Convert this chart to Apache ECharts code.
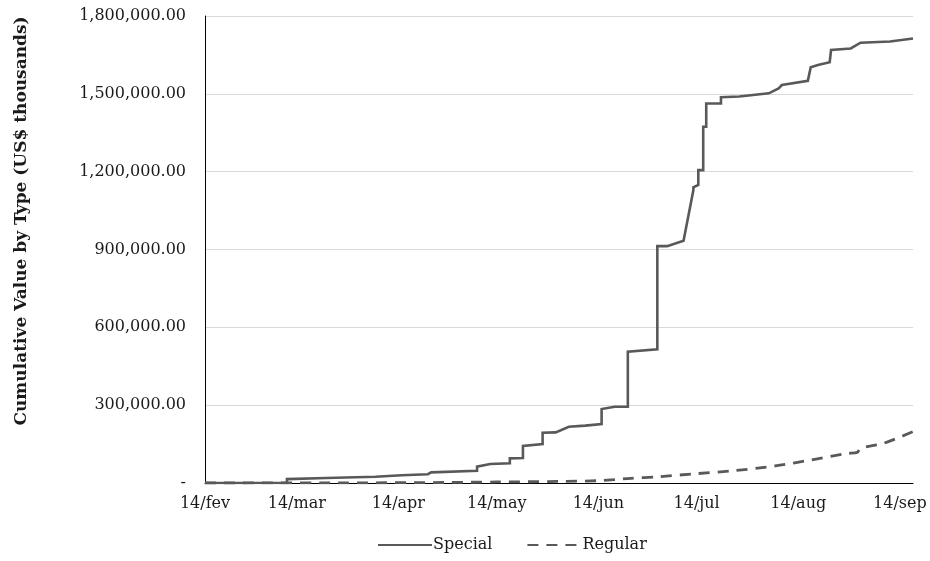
<!DOCTYPE html>
<html>
<head>
<meta charset="utf-8">
<script src="https://cdn.jsdelivr.net/npm/echarts@6/dist/echarts.min.js"></script>
<style>
html,body{margin:0;padding:0;background:#fff;}
#chart{width:930px;height:561px;}
</style>
</head>
<body>
<div id="chart"></div>
<script>
// ---- data ----
var monthLabels = ['14/fev','14/mar','14/apr','14/may','14/jun','14/jul','14/aug','14/sep'];
var yTickValues = [0, 300000, 600000, 900000, 1200000, 1500000, 1800000];

var specialDates = [
  '2014-02-01','2014-02-26','2014-02-26','2014-03-10','2014-03-25','2014-04-02','2014-04-10','2014-04-11',
  '2014-04-25','2014-04-25','2014-04-29','2014-05-05','2014-05-05','2014-05-09','2014-05-09','2014-05-15',
  '2014-05-15','2014-05-19','2014-05-23','2014-05-28','2014-06-02','2014-06-02','2014-06-06','2014-06-10',
  '2014-06-10','2014-06-19','2014-06-19','2014-06-22','2014-06-27','2014-06-30','2014-06-30','2014-07-01 12:00',
  '2014-07-01 12:00','2014-07-03 00:00','2014-07-03 00:00','2014-07-03 22:00','2014-07-03 22:00','2014-07-08 10:00','2014-07-08 10:00','2014-07-14',
  '2014-07-23','2014-07-26','2014-07-27','2014-08-03 22:00','2014-08-04 19:00','2014-08-07','2014-08-10 14:00','2014-08-11',
  '2014-08-17','2014-08-20','2014-08-29','2014-09-05'
];
var specialValues = [
  0, 0, 15000, 19000, 24000, 30000, 34000, 41000,
  47000, 63000, 73000, 76000, 95000, 96000, 143000, 150000,
  194000, 195000, 217000, 221000, 227000, 285000, 294000, 294000,
  506000, 515000, 913000, 913000, 934000, 1129000, 1140000, 1149000,
  1206000, 1206000, 1373000, 1373000, 1463000, 1463000, 1487000, 1490000,
  1502000, 1521000, 1534000, 1550000, 1602000, 1611000, 1622000, 1669000,
  1675000, 1697000, 1702000, 1713000
];

var regularDates = [
  '2014-02-01','2014-03-15','2014-04-15','2014-05-01','2014-05-20','2014-06-01','2014-06-11','2014-06-19',
  '2014-06-30','2014-07-12','2014-07-25','2014-08-05','2014-08-16','2014-08-19','2014-08-20','2014-08-27','2014-09-05'
];
var regularValues = [
  0, 500, 2000, 4000, 6000, 9000, 18000, 24000,
  35000, 47000, 66000, 89000, 114000, 118000, 134000, 153000, 198000
];

function zip(a, b) { return a.map(function (d, i) { return [d, b[i]]; }); }

var FONT = 'DejaVu Serif';
var chart = echarts.init(document.getElementById('chart'), null, {renderer: 'canvas'});
chart.setOption({
  animation: false,
  backgroundColor: '#ffffff',
  grid: {left: 205, right: 17, top: 16, bottom: 78, containLabel: false},
  xAxis: {
    type: 'time',
    min: '2014-02-01',
    max: '2014-09-05',
    minInterval: 28 * 86400000,
    maxInterval: 31 * 86400000,
    splitLine: {show: false},
    axisTick: {show: false},
    axisLine: {show: true, lineStyle: {color: '#000000', width: 1}},
    axisLabel: {
      color: '#1a1a1a', fontFamily: FONT, fontSize: 16, margin: 13,
      hideOverlap: false,
      formatter: function (v) {
        var d = new Date(v);
        if (d.getDate() !== 1 || d.getHours() !== 0) return '';
        var idx = d.getMonth() - 1;
        return monthLabels[idx] || '';
      }
    }
  },
  yAxis: {
    type: 'value',
    min: 0, max: 1800000, interval: 300000,
    axisLine: {show: true, lineStyle: {color: '#000000', width: 1}},
    axisTick: {show: false},
    splitLine: {show: true, lineStyle: {color: '#d9d9d9', width: 1}},
    axisLabel: {
      color: '#1a1a1a', fontFamily: FONT, fontSize: 16, margin: 19,
      formatter: function (v) {
        if (yTickValues.indexOf(v) < 0) return '';
        if (v === 0) return '-';
        return v.toLocaleString('en-US', {minimumFractionDigits: 2, maximumFractionDigits: 2});
      }
    }
  },
  legend: {
    bottom: 3, left: 372,
    itemWidth: 54, itemHeight: 12, itemGap: 34,
    itemStyle: {opacity: 0},
    textStyle: {color: '#1a1a1a', fontFamily: FONT, fontSize: 16, padding: [0, 0, 0, -4]},
    data: ['Special', 'Regular']
  },
  graphic: [{
    type: 'text', x: 22, y: 221, rotation: Math.PI / 2,
    style: {
      text: 'Cumulative Value by Type (US$ thousands)',
      fill: '#1a1a1a', font: 'bold 17px "DejaVu Serif"',
      align: 'center', verticalAlign: 'middle'
    }
  }],
  series: [
    {
      name: 'Special', type: 'line', showSymbol: false, symbol: 'none',
      data: zip(specialDates, specialValues),
      lineStyle: {color: '#595959', width: 2.6, join: 'miter'},
      itemStyle: {color: '#595959'}
    },
    {
      name: 'Regular', type: 'line', showSymbol: false, symbol: 'none', smooth: 0.3,
      data: zip(regularDates, regularValues),
      lineStyle: {color: '#595959', width: 2.8, type: [11, 8]},
      itemStyle: {color: '#595959'}
    }
  ]
});
</script>
</body>
</html>
